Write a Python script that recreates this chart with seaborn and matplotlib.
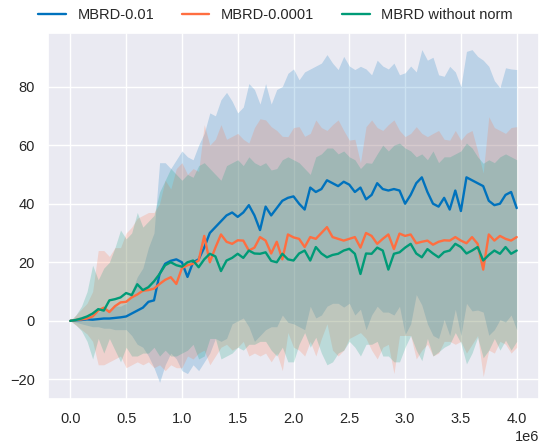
import numpy as np
import pandas as pd
import matplotlib
matplotlib.use("Agg")
import matplotlib.pyplot as plt
import seaborn as sns

steps = np.linspace(0, 4e6, 81)

labels = ["MBRD-0.01", "MBRD-0.0001", "MBRD without norm"]
colors = ["#0072BD", "#FF6E40", "#009B77"]

blue_mean = [0, 0.2, 0.3, 0.5, 0.4, 0.6, 0.8, 0.8, 1.0, 1.2, 1.5, 2.5, 3.5, 4.5, 6.5, 7.0, 16, 19.5, 20.5, 21, 20,
             15, 20, 21, 25, 30, 32, 34, 36, 37, 35.5, 37, 39.5, 36, 31, 39, 36, 38.5, 41, 42, 42.5,
             40, 38, 45.5, 44, 45, 48, 47, 46, 47.5, 46.5, 44, 45.5, 41.5, 43, 47, 45, 44.5, 45, 44.5, 40,
             43, 47, 49, 44, 40, 39, 42, 38, 44.5, 37.5, 49, 48, 47, 46, 41, 39.5, 40, 43, 44, 38.5]
blue_upper = [0, 1, 1.5, 2, 3, 3, 4, 4, 5, 5, 6, 10, 15, 18, 25, 30, 54, 54, 52, 55, 58,
              56, 55, 60, 64, 71, 70, 75.5, 78, 75, 71, 73, 81, 79, 74, 81, 74, 79, 80, 84.5, 86,
              82.3, 85, 86, 87, 88, 90.9, 88, 85.8, 90.3, 87, 85.8, 86.9, 86, 84, 89, 87, 86, 88, 84, 84.7,
              87, 85, 92.6, 89, 90, 84, 83.5, 86.9, 85, 80, 92, 92.6, 90.3, 89, 86.9, 82, 79.6, 86.4, 86, 85.8]
blue_lower = [0, -0.5, -1, -1.5, -2, -2, -2.5, -2.5, -3, -3, -3, -5, -8, -9, -12, -16, -21, -15, -11, -13, -17,
              -18, -15, -17, -14, -11, -6, -7, -6, -1, 0, 1, -2, -7, -5, -3, -2, -2, 2, -0.5, -1,
              -2, -3, 5, 1, 2, 5, 6, 6, 4.7, 6, 2, 4, -3, 2, 5, 3, 3, 2, 5, -4.7,
              -1, 9, 5.4, -1, -5, -6, 0.5, -5, 4, -5, 6, 3.4, 3.7, 3, -4.9, -3, 0.4, -0.4, 2, -3]

orange_mean = [0, 0.3, 0.5, 0.8, 1.5, 3.5, 4.5, 3.0, 5, 6.3, 6.5, 8, 9, 10.3, 10.5, 11, 12.6, 14, 14.9, 12.6, 18,
               19, 19.5, 20.6, 29, 20, 25, 29.5, 27, 26.3, 27.5, 27.4, 24, 25, 28.6, 27.4, 23, 27, 21, 29.5, 28.5,
               28, 25.2, 28.6, 28, 30, 32, 28.6, 28, 27.4, 28, 28.6, 25, 30, 29, 26.3, 28, 29.5, 24.5, 29.8, 29,
               29.5, 26.5, 27, 27.4, 26, 27, 27.5, 27.4, 28.6, 27.4, 26.5, 28.6, 26.3, 17.5, 29.5, 27.4, 29, 28, 27.4, 28.6]
orange_upper = [0, 2, 4, 6, 10, 24, 24, 22, 25, 25, 30, 32, 35, 36, 37, 37, 40, 48, 45, 52, 54,
                50, 52, 51, 67, 60, 62, 67, 62, 63, 64, 62, 60.7, 66, 69, 68.6, 66.3, 65, 63, 62.9, 66,
                66.3, 63, 64, 68.6, 66, 65, 67, 68.6, 65, 61.7, 62, 54, 66.3, 68.6, 66, 65, 67, 68.6, 65, 62.9,
                64, 66.3, 64, 62.9, 64, 65, 62, 61.7, 65, 61.7, 64, 65, 58, 50.4, 69.7, 66, 65, 64, 66, 66.3]
orange_lower = [0, -1.5, -3, -4.5, -7, -15, -15, -14, -13, -12, -16, -15, -14, -15, -14, -16, -15, -17, -15, -16, -16,
                -12, -13, -11, -10, -15, -12, -9, -8, -10, -9, -7, -12, -11, -12, -11, -14, -11, -17, -4, -9,
                -10, -12, -7, -12, -6, -1, -10, -12, -10, -6, -5, -4, -6, -10, -13, -9, -8, -18, -5, -5,
                -5, -13, -10, -8, -12, -11, -7, -7, -8, -7, -11, -8, -5, -19, -10, -11, -7, -8, -11, -9]

green_mean = [0, 0.3, 0.8, 1.5, 2.5, 4, 3.5, 7, 7.4, 8, 9.5, 8.8, 12.5, 10.5, 11.5, 13.5, 16, 19, 20, 19, 18.5,
              20, 20.6, 18.3, 21, 22.9, 22, 17, 20.6, 21.5, 22.9, 21.5, 24, 23, 22.9, 23.4, 20.5, 20, 22.9, 21, 20.6,
              23, 24, 20.6, 25.2, 23, 21.7, 22.5, 22.9, 24, 24.6, 22.9, 16, 23, 22.9, 25, 24, 17.5, 22.9, 23.4, 25,
              26.3, 23, 21.7, 24.5, 23, 21.7, 23.5, 24, 26.3, 25.2, 23, 24, 25.2, 20.6, 22.5, 24, 22.9, 25.2, 22.9, 24]
green_upper = [0, 2, 5, 10, 19, 14, 18, 20, 25, 31, 28, 30, 37, 32, 34, 36, 44, 48, 52, 50, 48,
               50, 49, 53, 54, 52, 50, 48, 53, 54, 55, 53, 56, 54, 53, 54, 51.5, 52, 55, 56, 55,
               54, 52, 50, 56, 57, 59, 59, 57, 58, 56, 55, 52, 54, 53.8, 57, 60, 58, 60, 60.7, 59,
               58, 56, 57, 55, 58, 54, 56, 56, 57, 58, 60.7, 59, 56, 53.8, 55, 54, 56, 57, 56, 55]
green_lower = [0, -1.4, -3.4, -7, -13, -6, -11, -6, -10, -14, -9, -12, -12, -11, -11, -9, -12, -10, -12, -12, -11,
               -10, -8, -13, -12, -6, -6, -13, -12, -11, -9, -10, -8, -8, -7, -7, -10, -12, -9, -14, -14,
               -8, -4, -9, -5.6, -11, -15, -14, -11, -10, -7, -9, -12, -8, -8, -7, -12, -12, -14, -14, -9,
               -5, -10, -13.6, -6, -12, -10.6, -9, -8, -4, -7.6, -14.7, -11, -5.6, -12.6, -10, -6, -10, -6.6, -10, -7]

means = [blue_mean, orange_mean, green_mean]
uppers = [blue_upper, orange_upper, green_upper]
lowers = [blue_lower, orange_lower, green_lower]

sns.set_theme(style="darkgrid")
plt.rcParams["font.family"] = ["Liberation Sans", "DejaVu Sans"]

fig = plt.figure(figsize=(5.51, 4.44), dpi=100)
ax = fig.add_axes([48 / 551, 45 / 444, 491 / 551, 366 / 444])

frames = []
for lab, m in zip(labels, means):
    frames.append(pd.DataFrame({"step": steps, "value": m, "method": lab}))
df = pd.concat(frames, ignore_index=True)

for lo, up, c in zip(lowers, uppers, colors):
    ax.fill_between(steps, lo, up, color=c, alpha=0.2, linewidth=0)

sns.lineplot(data=df, x="step", y="value", hue="method", palette=dict(zip(labels, colors)),
             hue_order=labels, linewidth=1.7, ax=ax)

ax.set_xlabel("")
ax.set_ylabel("")
ax.set_xticks(np.arange(0, 4.01e6, 0.5e6))
ax.tick_params(labelsize=10.5)
ax.xaxis.get_offset_text().set_fontsize(10.5)

sns.move_legend(ax, "upper center", bbox_to_anchor=(0.5, 1.0), bbox_transform=fig.transFigure,
                ncol=3, frameon=False, title=None, fontsize=10.5, handlelength=1.9,
                handletextpad=0.8, columnspacing=1.9, borderaxespad=0.15)

fig.savefig("out.png", dpi=100)
